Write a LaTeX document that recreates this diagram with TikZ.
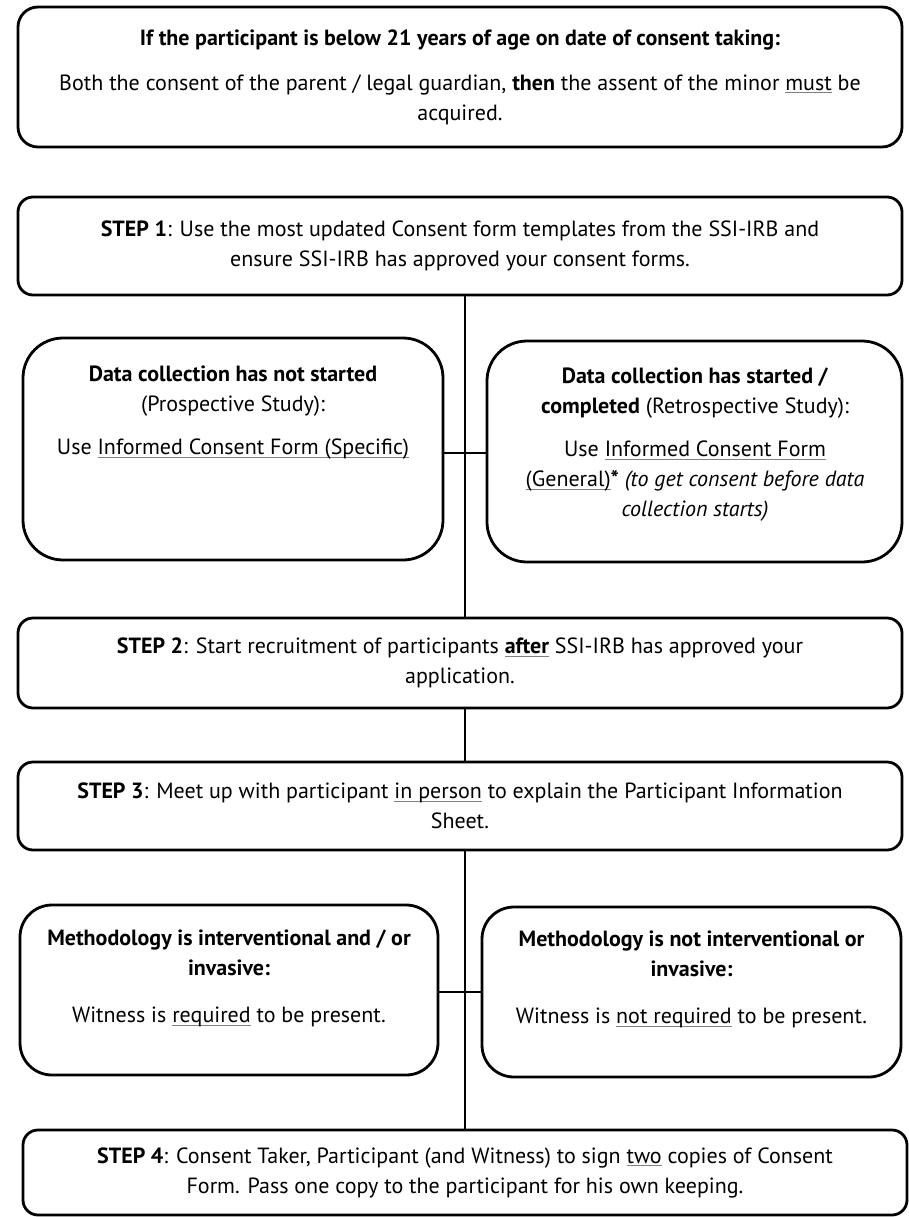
\documentclass[tikz,border=0pt]{standalone}
\usepackage{fontspec}
\setmainfont{PT Sans}
\usepackage{xcolor}
\definecolor{ulgray}{gray}{0.5}
\newsavebox{\gulbox}
\newcommand\gul[1]{\sbox{\gulbox}{#1}\rlap{\textcolor{ulgray}{\rule[-3pt]{\wd\gulbox}{0.8pt}}}\usebox{\gulbox}}
\tikzset{
  box/.style={draw, line width=2.8pt, rounded corners=15pt, inner sep=0pt, outer sep=0pt, align=center},
  txt/.style={inner sep=0pt, align=center, anchor=north},
  conn/.style={draw, line width=2.8pt},
}
\begin{document}
\begin{tikzpicture}[x=1pt,y=-1pt,font=\fontsize{22}{30}\selectfont]
\useasboundingbox (0,0) rectangle (909,1217);
\fill[white] (0,0) rectangle (909,1217);
\node[box, rounded corners=20pt, minimum width=884pt, minimum height=140pt] (top) at (460,77)
  {\textbf{If the participant is below 21 years of age on date of consent taking:}\\[15pt]
   Both the consent of the parent / legal guardian, \textbf{then} the assent of the minor \gul{must} be\\ acquired.};
\node[box, minimum width=884pt, minimum height=98pt] (step1) at (460,246)
  {\textbf{STEP 1}: Use the most updated Consent form templates from the SSI-IRB and\\ ensure SSI-IRB has approved your consent forms.};
\node[box, rounded corners=40pt, minimum width=420pt, minimum height=222pt] (dataL) at (233,449) {};
\node[box, rounded corners=40pt, minimum width=415pt, minimum height=221pt] (dataR) at (694.5,451.5) {};
\node[txt] (dataLt) at (233,366)
  {\textbf{Data collection has not started}\\ (Prospective Study):\\[13pt] Use \gul{Informed Consent Form (Specific)}};
\node[txt] (dataRt) at (695,368)
  {\textbf{Data collection has started /}\\ \textbf{completed} (Retrospective Study):\\[13pt] Use \gul{Informed Consent Form}\\ \gul{(General)}\textbf{*} \textit{(to get consent before data}\\ \textit{collection starts)}};
\node[box, minimum width=884pt, minimum height=90pt] (step2) at (460,663)
  {\textbf{STEP 2}: Start recruitment of participants \textbf{\gul{after}} SSI-IRB has approved your\\ application.};
\node[box, minimum width=884pt, minimum height=88pt] (step3) at (460,806)
  {\textbf{STEP 3}: Meet up with participant \gul{in person} to explain the Participant Information\\ Sheet.};
\node[box, rounded corners=32pt, minimum width=418pt, minimum height=170pt] (methL) at (229,990) {};
\node[box, rounded corners=32pt, minimum width=419pt, minimum height=170pt] (methR) at (691.5,992) {};
\node[txt] (methLt) at (229,930)
  {\textbf{Methodology is interventional and / or}\\ \textbf{invasive:}\\[17pt] Witness is \gul{required} to be present.};
\node[txt] (methRt) at (691.5,931)
  {\textbf{Methodology is not interventional or}\\ \textbf{invasive:}\\[17pt] Witness is \gul{not required} to be present.};
\node[box, minimum width=884pt, minimum height=85pt] (step4) at (465,1172.5)
  {\textbf{STEP 4}: Consent Taker, Participant (and Witness) to sign \gul{two} copies of Consent\\ Form. Pass one copy to the participant for his own keeping.};
\coordinate (spine) at (465,0);
\coordinate (h1) at (0,453);
\coordinate (h2) at (0,992);
\draw[conn] (step1.south -| spine) -- (step2.north -| spine);
\draw[conn] (step2.south -| spine) -- (step3.north -| spine);
\draw[conn] (step3.south -| spine) -- (step4.north -| spine);
\draw[conn] (dataL.east |- h1) -- (dataR.west |- h1);
\draw[conn] (methL.east |- h2) -- (methR.west |- h2);
\end{tikzpicture}
\end{document}
